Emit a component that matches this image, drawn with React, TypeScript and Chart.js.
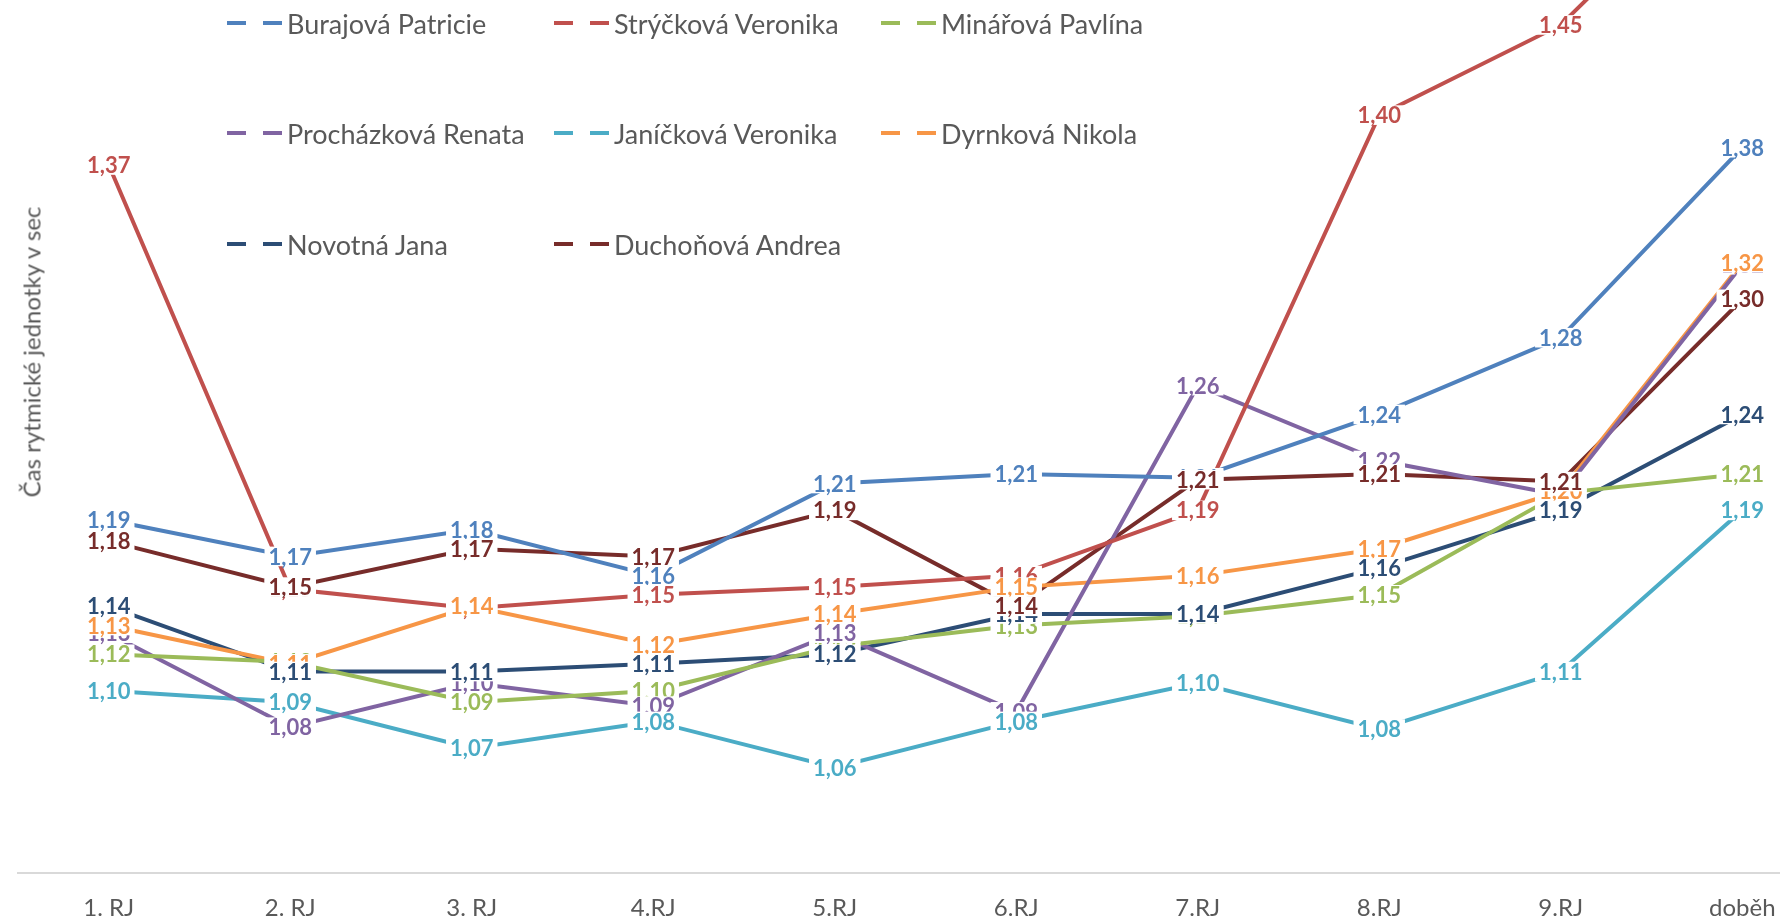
import React, { useEffect, useRef } from "react";
import { Chart, registerables } from "chart.js";

Chart.register(...registerables);

const categories = ["1. RJ", "2. RJ", "3. RJ", "4.RJ", "5.RJ", "6.RJ", "7.RJ", "8.RJ", "9.RJ", "doběh"];

const burajova = [1.189, 1.17, 1.184, 1.16, 1.208, 1.213, 1.211, 1.244, 1.284, 1.383];
const stryckova = [1.374, 1.153, 1.143, 1.15, 1.154, 1.16, 1.194, 1.4, 1.447, 1.54];
const minarova = [1.119, 1.115, 1.094, 1.1, 1.123, 1.134, 1.139, 1.15, 1.203, 1.213];
const prochazkova = [1.13, 1.081, 1.104, 1.092, 1.13, 1.089, 1.259, 1.22, 1.202, 1.322];
const janickova = [1.1, 1.094, 1.07, 1.084, 1.06, 1.084, 1.104, 1.08, 1.11, 1.194];
const dyrnkova = [1.134, 1.114, 1.144, 1.124, 1.14, 1.154, 1.16, 1.174, 1.204, 1.323];
const novotna = [1.144, 1.11, 1.11, 1.114, 1.119, 1.14, 1.14, 1.164, 1.194, 1.244];
const duchonova = [1.178, 1.154, 1.174, 1.17, 1.194, 1.144, 1.21, 1.213, 1.209, 1.304];

const seriesNames = [
  "Burajová Patricie",
  "Strýčková Veronika",
  "Minářová Pavlína",
  "Procházková Renata",
  "Janíčková Veronika",
  "Dyrnková Nikola",
  "Novotná Jana",
  "Duchoňová Andrea",
];
const seriesValues = [burajova, stryckova, minarova, prochazkova, janickova, dyrnkova, novotna, duchonova];
const seriesColors = ["#4F81BD", "#C0504D", "#9BBB59", "#8064A2", "#4BACC6", "#F79646", "#2C4D75", "#772C2A"];

const FONT = "Lato, 'Open Sans', sans-serif";
const LABEL_SIZE = 22;

const labelPlugin = {
  id: "valueLabels",
  afterDatasetsDraw(chart: any) {
    const ctx = chart.ctx as CanvasRenderingContext2D;
    ctx.save();
    ctx.font = `bold ${LABEL_SIZE}px ${FONT}`;
    ctx.textAlign = "center";
    ctx.textBaseline = "middle";
    chart.data.datasets.forEach((ds: any, i: number) => {
      const meta = chart.getDatasetMeta(i);
      meta.data.forEach((pt: any, j: number) => {
        const v = ds.data[j] as number;
        const text = (Math.round(v * 100) / 100).toFixed(2).replace(".", ",");
        const w = ctx.measureText(text).width;
        const h = LABEL_SIZE * 0.8;
        ctx.fillStyle = "#ffffff";
        ctx.fillRect(pt.x - w / 2 - 4, pt.y - h / 2 - 1, w + 8, h + 2);
        ctx.fillStyle = ds.borderColor;
        ctx.fillText(text, pt.x, pt.y + 1);
      });
    });
    ctx.restore();
  },
};

export default function App() {
  const ref = useRef<HTMLCanvasElement>(null);

  useEffect(() => {
    document.body.style.margin = "0";
    const datasets = seriesNames.map((name, i) => ({
      label: name,
      data: seriesValues[i],
      borderColor: seriesColors[i],
      backgroundColor: seriesColors[i],
      borderWidth: 4,
      pointRadius: 0,
      tension: 0,
      fill: false,
    }));
    const chart = new Chart(ref.current as HTMLCanvasElement, {
      type: "line",
      data: { labels: categories, datasets },
      options: {
        responsive: false,
        maintainAspectRatio: false,
        animation: false,
        layout: { padding: { left: 18, right: 7, top: 0, bottom: 0 } },
        plugins: {
          legend: { display: false },
          tooltip: { enabled: false },
        },
        scales: {
          x: {
            offset: true,
            grid: { display: false, drawTicks: false },
            border: { display: true, color: "#d9d9d9", width: 2 },
            ticks: {
              color: "#595959",
              font: { family: FONT, size: 24 },
              padding: 21,
              autoSkip: false,
              maxRotation: 0,
            },
            afterFit: (scale: any) => {
              scale.height = 48;
            },
          },
          y: {
            display: false,
            min: 1.005,
            max: 1.46,
          },
        },
      },
      plugins: [labelPlugin],
    });
    return () => chart.destroy();
  }, []);

  const colX = [227, 554, 881];
  const rowY = [23, 133, 244];

  return (
    <div
      style={{
        position: "fixed",
        left: 0,
        top: 0,
        width: 1780,
        height: 921,
        overflow: "hidden",
        background: "#ffffff",
      }}
    >
      <canvas
        ref={ref}
        width={1840}
        height={921}
        style={{ position: "absolute", left: 0, top: 0, width: 1840, height: 921 }}
      />
      {seriesNames.map((name, i) => (
        <div
          key={name}
          style={{
            position: "absolute",
            left: colX[i % 3],
            top: rowY[Math.floor(i / 3)] - 20,
            height: 40,
            display: "flex",
            alignItems: "center",
            whiteSpace: "nowrap",
            fontFamily: FONT,
            fontSize: 27,
            color: "#595959",
          }}
        >
          <span style={{ display: "inline-block", width: 19, height: 4, background: seriesColors[i] }} />
          <span style={{ display: "inline-block", width: 17 }} />
          <span style={{ display: "inline-block", width: 19, height: 4, background: seriesColors[i] }} />
          <span style={{ display: "inline-block", width: 5 }} />
          <span>{name}</span>
        </div>
      ))}
      <div
        style={{
          position: "absolute",
          left: 31,
          top: 352,
          transform: "translate(-50%, -50%) rotate(-90deg)",
          whiteSpace: "nowrap",
          fontFamily: FONT,
          fontSize: 24,
          color: "#595959",
        }}
      >
        Čas rytmické jednotky v sec
      </div>
    </div>
  );
}
